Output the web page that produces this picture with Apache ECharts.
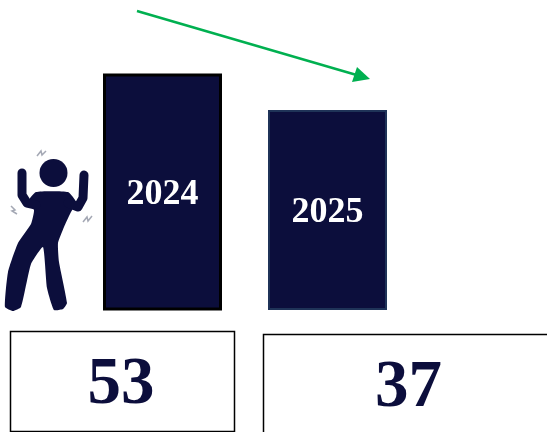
<!DOCTYPE html>
<html>
<head>
<meta charset="utf-8">
<style>
  html, body { margin: 0; padding: 0; background: #fff; }
  #chart { width: 547px; height: 432px; }
</style>
<script src="https://cdn.jsdelivr.net/npm/echarts@6/dist/echarts.min.js"></script>
</head>
<body>
<div id="chart"></div>
<script>
const years = ['2024', '2025'];
const values = [53, 37];
const navy = '#0c0e3c';
const serif = '"Liberation Serif", serif';

// bars in the picture are not to scale from zero, the hidden axis starts well below it
const axisMin = -51;
const axisMax = 53;

// figure outline
const bodyPoints = [[36,192],[68,192],[76,202],[70,214],[64,227],[58,243],[59,262],[67,303],[63,309],[54,310],[47,288],[43,247],[31,264],[21,307],[13,311],[5,307],[8,272],[18,243],[31,224],[34,210],[27,203]];
const leftArm = [[22,173],[22,195],[27,203],[36,205]];
const rightArm = [[84,175],[83,198],[78,207],[68,203]];
const squiggles = [
  [[37,156],[41,151],[42,155],[46,151]],
  [[11,206],[15,210],[12,211],[17,214]],
  [[83,222],[87,217],[88,221],[92,216]]
];

const chart = echarts.init(document.getElementById('chart'));

const person = [
  { type: 'circle', shape: { cx: 53.5, cy: 173, r: 14 }, style: { fill: navy } },
  { type: 'polygon', shape: { points: bodyPoints, smooth: 0.15 }, style: { fill: navy } },
  { type: 'polyline', shape: { points: leftArm }, style: { stroke: navy, fill: null, lineWidth: 9, lineCap: 'round', lineJoin: 'round' } },
  { type: 'polyline', shape: { points: rightArm }, style: { stroke: navy, fill: null, lineWidth: 9, lineCap: 'round', lineJoin: 'round' } }
].concat(squiggles.map(function (pts) {
  return { type: 'polyline', shape: { points: pts }, style: { stroke: '#a4a8b4', fill: null, lineWidth: 1.5 } };
}));

const arrow = [
  { type: 'line', shape: { x1: 137, y1: 11, x2: 360, y2: 76 }, style: { stroke: '#00b050', lineWidth: 2.5 } },
  { type: 'polygon', shape: { points: [[357,67],[370,79],[352,82]] }, style: { fill: '#00b050' } }
];

const boxes = [
  { type: 'rect', shape: { x: 10.5, y: 331.5, width: 224, height: 100 }, style: { fill: '#fff', stroke: '#000', lineWidth: 1.5 } },
  { type: 'rect', shape: { x: 263.5, y: 334.5, width: 300, height: 110 }, style: { fill: '#fff', stroke: '#000', lineWidth: 1.5 } },
  { type: 'text', x: 121, y: 386, style: { text: String(values[0]), fill: navy, font: 'bold 67px ' + serif, textAlign: 'center', textVerticalAlign: 'middle' } },
  { type: 'text', x: 408.5, y: 389, style: { text: String(values[1]), fill: navy, font: 'bold 67px ' + serif, textAlign: 'center', textVerticalAlign: 'middle' } }
];

function renderBar(params, api) {
  const i = api.value(0);
  const top = api.coord([i, api.value(1)]);
  const base = api.coord([i, axisMin]);
  const first = i === 0;
  const width = first ? 116 : 117;
  return {
    type: 'rect',
    shape: { x: top[0] - width / 2, y: top[1], width: width, height: base[1] - top[1] },
    style: { fill: navy, stroke: first ? '#000' : '#1f3358', lineWidth: first ? 3 : 2 },
    textContent: {
      style: { text: years[i], fill: '#fff', font: 'bold 36px ' + serif }
    },
    textConfig: { position: 'inside', offset: [0, 3] }
  };
}

chart.setOption({
  animation: false,
  backgroundColor: '#fff',
  grid: { left: 80, right: 137, top: 75, bottom: 123 },
  xAxis: { type: 'category', data: years, show: false },
  yAxis: { type: 'value', min: axisMin, max: axisMax, show: false },
  series: [{
    type: 'custom',
    renderItem: renderBar,
    encode: { x: 0, y: 1 },
    data: values.map(function (v, i) { return [i, v]; })
  }],
  graphic: { elements: person.concat(arrow, boxes) }
});
</script>
</body>
</html>
